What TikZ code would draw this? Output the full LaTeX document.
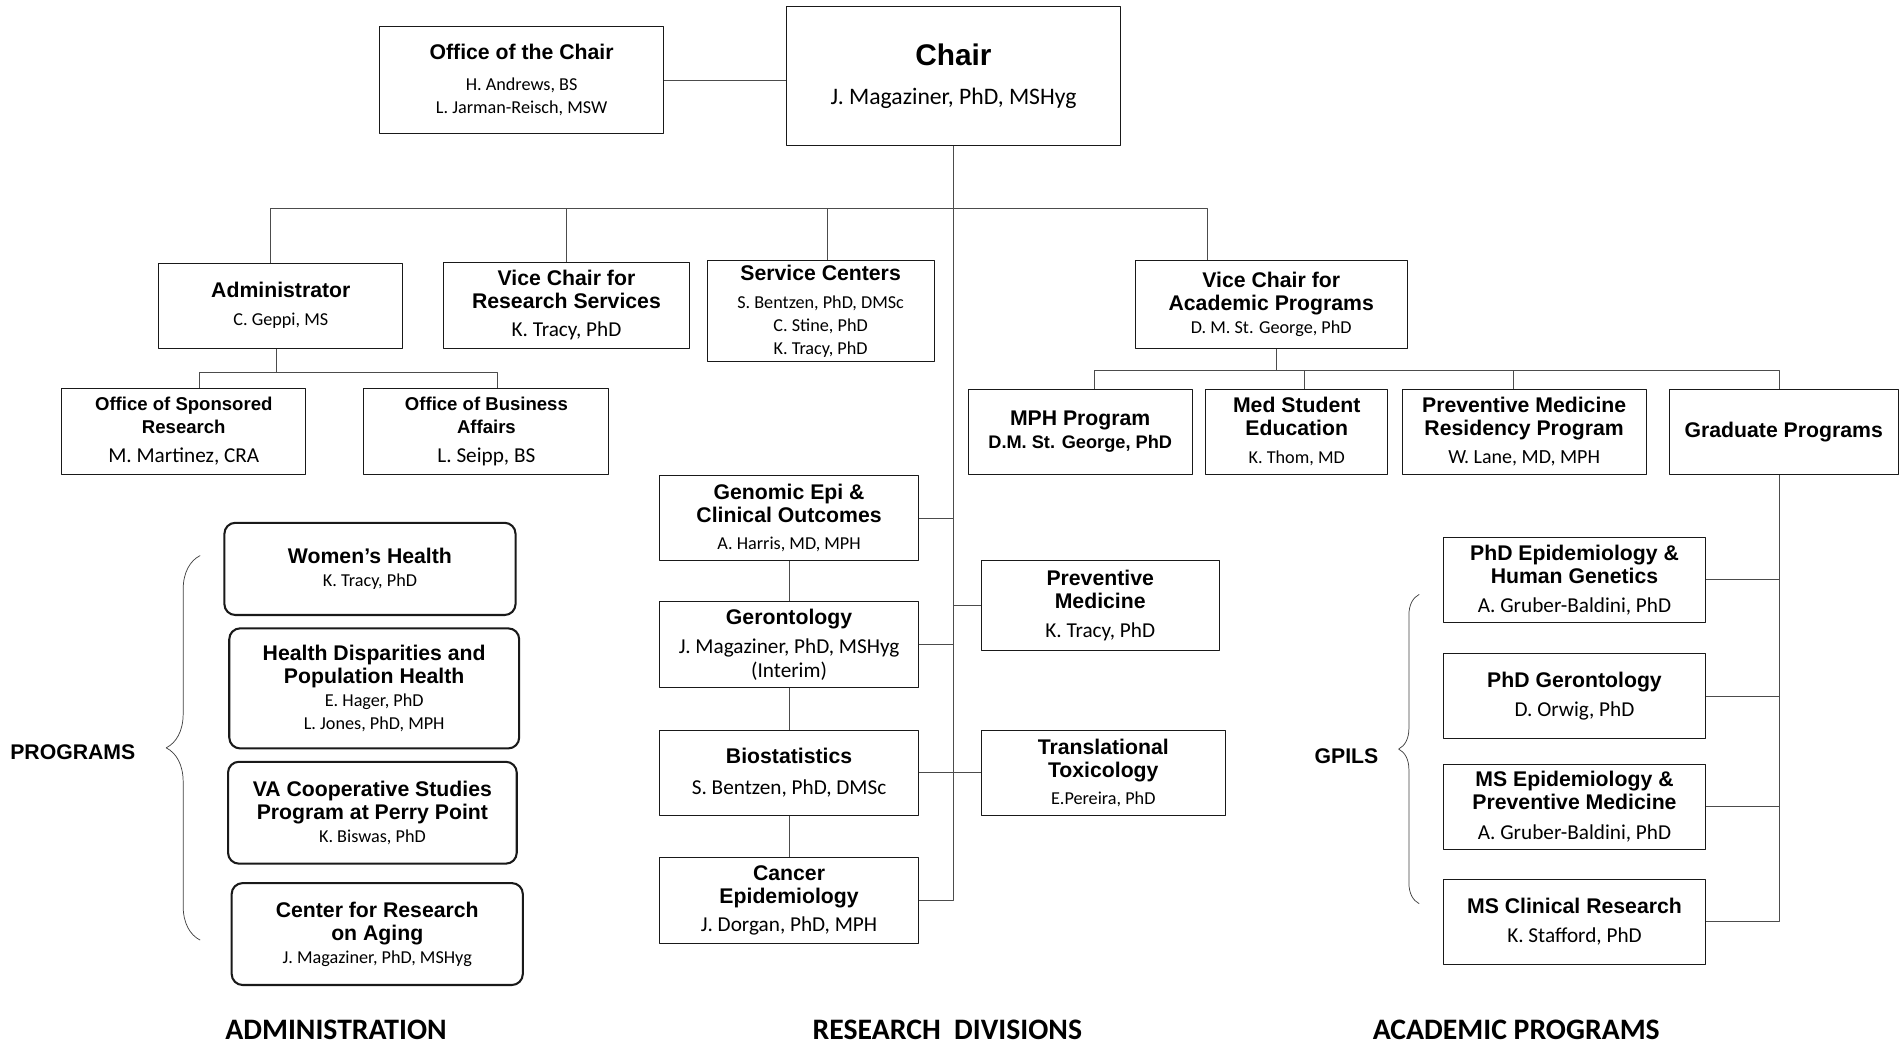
\documentclass[tikz,border=0pt]{standalone}
\usepackage{fontspec}
\setmainfont{Carlito}
\newfontfamily\headfont{Liberation Sans}
\usetikzlibrary{decorations.pathreplacing}
\newcommand{\hd}[1]{{\headfont\bfseries\fontsize{17.5}{20}\selectfont #1}}
\newcommand{\hds}[1]{{\headfont\bfseries\fontsize{15.3}{18}\selectfont #1}}
\newcommand{\nmL}{\fontsize{17.5}{20}\selectfont}
\tikzset{
  unit/.style={draw=black!90, line width=0.8pt, align=center, inner sep=1pt, font=\fontsize{15}{19}\selectfont},
  prog/.style={unit, rounded corners=9pt, line width=1.7pt},
  wh/.style 2 args={minimum width=#1pt, minimum height=#2pt},
  link/.style={draw=black!70, line width=0.7pt},
  brc/.style={draw=black!75, line width=0.6pt, decorate, decoration={brace, amplitude=#1pt}},
  side/.style={font=\headfont\bfseries\fontsize{17.5}{20}\selectfont},
  foot/.style={font=\bfseries\fontsize{24.5}{26}\selectfont},
}
\begin{document}
\begin{tikzpicture}[x=1pt, y=-1pt, line join=round]
\useasboundingbox (0,0) rectangle (1568,860);
% chair
\node[unit, wh={276}{115}] (chair) at (786,62.5) {{\headfont\bfseries\fontsize{24.6}{28}\selectfont Chair}\\[13pt]{\fontsize{19.5}{22}\selectfont J. Magaziner, PhD, MSHyg}};
\node[unit, wh={234}{88}] (office) at (430,66) {\hd{Office of the Chair}\\[6pt]H. Andrews, BS\\L. Jarman-Reisch, MSW};
% second level
\node[unit, wh={201}{70}] (admin) at (231.5,252) {\hd{Administrator}\\[4pt]C. Geppi, MS};
\node[unit, wh={202}{71}] (vcres) at (467,251.5) {\hd{Vice Chair for}\\\hd{Research Services}\\[4pt]{\nmL K. Tracy, PhD}};
\node[unit, wh={187}{83}] (service) at (676.5,256.5) {\hd{Service Centers}\\[4pt]S. Bentzen, PhD, DMSc\\C. Stine, PhD\\K. Tracy, PhD};
\node[unit, wh={224}{72}] (vcacad) at (1048,251) {\hd{Vice Chair for}\\\hd{Academic Programs}\\D. M. St. George, PhD};
% administration
\node[unit, wh={201}{71}] (sponsored) at (151.5,355.5) {\hds{Office of Sponsored}\\\hds{Research}\\[5pt]{\nmL M. Martinez, CRA}};
\node[unit, wh={202}{71}] (business) at (401,355.5) {\hds{Office of Business}\\\hds{Affairs}\\[5pt]{\nmL L. Seipp, BS}};
\node[prog, wh={240}{76}] (womens) at (305,469) {\hd{Women’s Health}\\K. Tracy, PhD};
\node[prog, wh={239}{99}] (dispar) at (308.5,567.5) {\hd{Health Disparities and}\\\hd{Population Health}\\E. Hager, PhD\\L. Jones, PhD, MPH};
\node[prog, wh={238}{84}] (vacsp) at (307,670) {\hd{VA Cooperative Studies}\\\hd{Program at Perry Point}\\K. Biswas, PhD};
\node[prog, wh={240}{84}] (aging) at (311,770) {\hd{Center for Research}\\\hd{on Aging}\\J. Magaziner, PhD, MSHyg};
% academic
\node[unit, wh={185}{70}] (mph) at (890.5,356) {\hd{MPH Program}\\{\headfont\bfseries D.M. St. George, PhD}};
\node[unit, wh={150}{70}] (medstud) at (1069,356) {\hd{Med Student}\\\hd{Education}\\[4pt]K. Thom, MD};
\node[unit, wh={201}{70}] (pmres) at (1256.5,356) {\hd{Preventive Medicine}\\\hd{Residency Program}\\[4pt]{\fontsize{16.5}{19}\selectfont W. Lane, MD, MPH}};
\node[unit, wh={189}{70}] (grad) at (1470.5,356) {\hd{Graduate Programs}};
\node[unit, wh={216}{70}] (phdepi) at (1298,478) {\hd{PhD Epidemiology \&}\\\hd{Human Genetics}\\[5pt]{\nmL A. Gruber-Baldini, PhD}};
\node[unit, wh={216}{70}] (phdger) at (1298,574) {\hd{PhD Gerontology}\\[5pt]{\nmL D. Orwig, PhD}};
\node[unit, wh={216}{70}] (msepi) at (1298,665) {\hd{MS Epidemiology \&}\\\hd{Preventive Medicine}\\[5pt]{\nmL A. Gruber-Baldini, PhD}};
\node[unit, wh={216}{70}] (msclin) at (1298,760) {\hd{MS Clinical Research}\\[5pt]{\nmL K. Stafford, PhD}};
% research divisions
\node[unit, wh={213}{70}] (genomic) at (650.5,427) {\hd{Genomic Epi \&}\\\hd{Clinical Outcomes}\\[3pt]A. Harris, MD, MPH};
\node[unit, wh={213}{71}] (geront) at (650.5,531.5) {\hd{Gerontology}\\[5pt]{\nmL J. Magaziner, PhD, MSHyg}\\{\nmL (Interim)}};
\node[unit, wh={213}{70}] (biostat) at (650.5,637) {\hd{Biostatistics}\\[6pt]{\nmL S. Bentzen, PhD, DMSc}};
\node[unit, wh={213}{71}] (cancer) at (650.5,742.5) {\hd{Cancer}\\\hd{Epidemiology}\\[4pt]{\nmL J. Dorgan, PhD, MPH}};
\node[unit, wh={196}{74}] (prevmed) at (907,499) {\hd{Preventive}\\\hd{Medicine}\\[5pt]{\nmL K. Tracy, PhD}};
\node[unit, wh={201}{70}] (toxic) at (909.5,637) {\hd{Translational}\\\hd{Toxicology}\\[3pt]E.Pereira, PhD};
% labels
\node[side] (programs) at (60,620) {PROGRAMS};
\node[side] (gpils) at (1110,623) {GPILS};
\node[foot] (fadmin) at (277,849) {ADMINISTRATION};
\node[foot] (fres) at (781,849) {RESEARCH~ DIVISIONS};
\node[foot] (facad) at (1250,849) {ACADEMIC PROGRAMS};
\draw[brc=28] (165,775) -- (165,458);
\draw[brc=17] (1170,745) -- (1170,490);
% connectors
\draw[link] (office.east) -- (office.east -| chair.west);
\draw[link] (chair.south) |- (cancer.east);
\coordinate (bar) at (782,172);
\foreach \n/\s in {admin/-8.5, vcres/0, service/6, vcacad/-53}
  \draw[link] (bar) -| ([xshift=\s pt]\n.north);
\coordinate (abar) at ([xshift=-3.5pt,yshift=-20pt]admin.south);
\draw[link] ([xshift=-3.5pt]admin.south) -- (abar);
\foreach \n/\s in {sponsored/12.5, business/9}
  \draw[link] (abar) -| ([xshift=\s pt]\n.north);
\coordinate (vbar) at ([xshift=4pt,yshift=-18pt]vcacad.south);
\draw[link] ([xshift=4pt]vcacad.south) -- (vbar);
\foreach \n/\s in {mph/11.5, medstud/6, pmres/-8.5, grad/-3.5}
  \draw[link] (vbar) -| ([xshift=\s pt]\n.north);
\coordinate (gtop) at ([xshift=-3.5pt]grad.south);
\draw[link] (gtop) |- (msclin.east);
\foreach \n in {phdepi, phdger, msepi}
  \draw[link] (\n.east) -- (\n.east -| gtop);
\draw[link] (genomic) -- (geront) (geront) -- (biostat) (biostat) -- (cancer);
\foreach \n in {genomic, geront}
  \draw[link] (\n.east) -- (\n.east -| chair.south);
\draw[link] (chair.south |- prevmed.west) -- (prevmed.west);
\draw[link] (biostat) -- (toxic);
\end{tikzpicture}
\end{document}
